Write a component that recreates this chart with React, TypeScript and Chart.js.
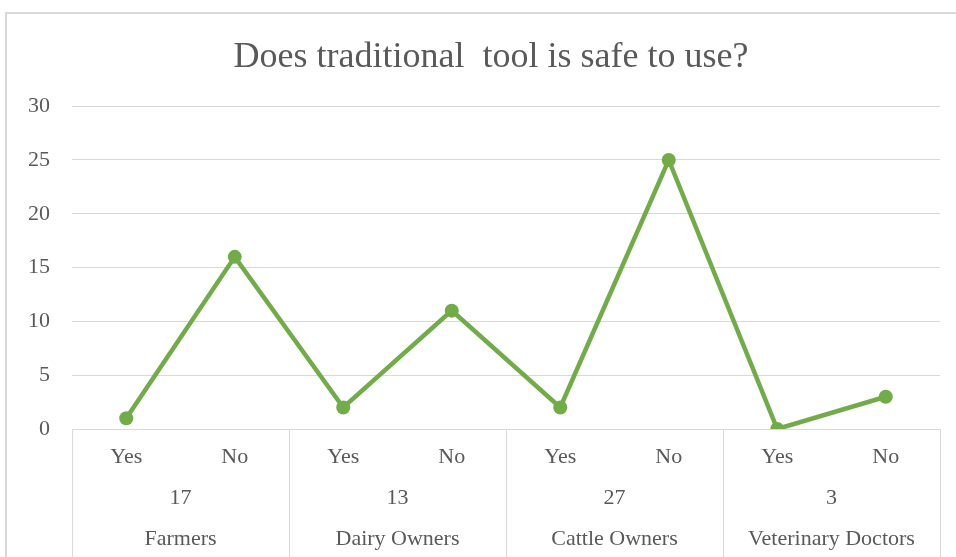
import React, { useEffect, useRef } from "react";
import { Chart, registerables } from "chart.js";

Chart.register(...registerables);

const answerLabels = ["Yes", "No", "Yes", "No", "Yes", "No", "Yes", "No"];
const responseValues = [1, 16, 2, 11, 2, 25, 0, 3];
const groupTotals = ["17", "13", "27", "3"];
const groupNames = ["Farmers", "Dairy Owners", "Cattle Owners", "Veterinary Doctors"];
const yTicks = [0, 5, 10, 15, 20, 25, 30];

const FONT = "'Liberation Serif', 'Times New Roman', serif";
const TEXT = "#595959";
const GRID = "#d9d9d9";
const GREEN = "#70ad47";

const separatorPlugin = {
  id: "groupSeparators",
  afterDraw(chart: any) {
    const xs = chart.scales.x;
    const { ctx, chartArea } = chart;
    ctx.save();
    ctx.strokeStyle = GRID;
    ctx.lineWidth = 1;
    for (let i = 0; i <= answerLabels.length; i += 2) {
      const px = Math.round(xs.getPixelForValue(i - 0.5)) + 0.5;
      ctx.beginPath();
      ctx.moveTo(px, chartArea.bottom);
      ctx.lineTo(px, chart.height);
      ctx.stroke();
    }
    ctx.restore();
  },
};

export default function App() {
  const ref = useRef<HTMLCanvasElement>(null);
  useEffect(() => {
    if (!ref.current) return;
    const tickFont = { family: FONT, size: 22 };
    const chart = new Chart(ref.current, {
      type: "line",
      data: {
        labels: answerLabels,
        datasets: [
          {
            data: responseValues,
            borderColor: GREEN,
            backgroundColor: GREEN,
            borderWidth: 4.5,
            pointRadius: 7,
            pointBackgroundColor: GREEN,
            pointBorderColor: GREEN,
            pointBorderWidth: 0,
            tension: 0,
            xAxisID: "x",
            yAxisID: "y",
          },
        ],
      },
      options: {
        responsive: false,
        animation: false,
        layout: { padding: { top: 0, right: 0, bottom: 7, left: 0 } },
        plugins: {
          legend: { display: false },
          tooltip: { enabled: false },
          title: {
            display: true,
            text: "Does traditional  tool is safe to use?",
            color: TEXT,
            font: { family: FONT, size: 36, weight: "normal" as any },
            padding: { top: 22, bottom: 27 },
          },
        },
        scales: {
          x: {
            type: "category",
            position: "bottom",
            weight: 1,
            offset: true,
            grid: { display: false, drawTicks: false },
            border: { display: false },
            ticks: { color: TEXT, font: tickFont, padding: 15, autoSkip: false, maxRotation: 0 },
            afterFit: (s: any) => { s.height = 41; },
          },
          x2: {
            type: "category",
            position: "bottom",
            weight: 2,
            labels: groupTotals,
            offset: true,
            grid: { display: false, drawTicks: false },
            border: { display: false },
            ticks: { color: TEXT, font: tickFont, padding: 15, autoSkip: false, maxRotation: 0 },
            afterFit: (s: any) => { s.height = 41; },
          },
          x3: {
            type: "category",
            position: "bottom",
            weight: 3,
            labels: groupNames,
            offset: true,
            grid: { display: false, drawTicks: false },
            border: { display: false },
            ticks: { color: TEXT, font: tickFont, padding: 15, autoSkip: false, maxRotation: 0 },
            afterFit: (s: any) => { s.height = 41; },
          },
          y: {
            position: "left",
            min: yTicks[0],
            max: yTicks[yTicks.length - 1],
            grid: { color: GRID, drawTicks: false, lineWidth: 1 },
            border: { display: false },
            ticks: { stepSize: 5, color: TEXT, font: tickFont, padding: 22 },
            afterFit: (s: any) => { s.width = 65; },
          },
          yRight: {
            position: "right",
            min: yTicks[0],
            max: yTicks[yTicks.length - 1],
            grid: { display: false, drawTicks: false },
            border: { display: false },
            ticks: { display: false },
            afterFit: (s: any) => { s.width = 35; },
          },
        },
      } as any,
      plugins: [separatorPlugin],
    });
    return () => chart.destroy();
  }, []);

  return (
    <div style={{ position: "fixed", inset: 0, overflow: "hidden", background: "#fff" }}>
      <div
        style={{
          position: "absolute",
          left: 5,
          top: 12,
          borderLeft: `2px solid ${GRID}`,
          borderTop: `2px solid ${GRID}`,
          width: 968,
          height: 545,
        }}
      >
        <canvas ref={ref} width={968} height={545} style={{ display: "block" }} />
      </div>
    </div>
  );
}
